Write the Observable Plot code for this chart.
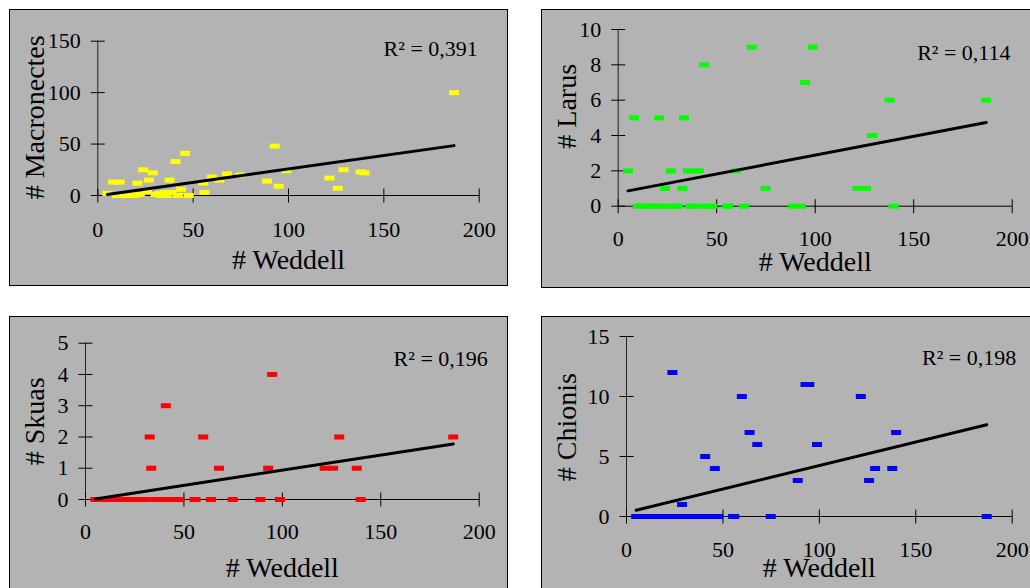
<!DOCTYPE html>
<html>
<head>
<meta charset="utf-8">
<script src="https://cdn.jsdelivr.net/npm/d3@7"></script>
<script src="https://cdn.jsdelivr.net/npm/@observablehq/plot@0.6"></script>
<style>
  html, body { margin: 0; padding: 0; background: #fff; width: 1030px; height: 588px; overflow: hidden; position: relative; }
  .panel { position: absolute; box-sizing: border-box; border: 1px solid #000; background: #b3b3b3; overflow: hidden; }
  .panel svg { display: block; }
</style>
</head>
<body>
<script>
// Number of Weddell seals per site (shared x for all four panels)
const weddell = [5, 8, 10, 11.5, 13, 15, 17, 19, 20.8, 22, 23.8, 25.8, 26.8, 28.8, 30.3,
  32.6, 33.4, 35.4, 36.5, 37.6, 38.6, 40.8, 42, 43.6, 45.8, 47.7, 55.3, 55.9, 59.8, 63.8,
  67.8, 74.8, 88.8, 92.8, 94.8, 98.8, 121.5, 125.8, 128.9, 137.8, 139.8, 186.8];

// Bird counts at the same sites
const macronectes = [2, 13, 0, 13, 1, 0, 1, 0, 12, 1, 25, 4, 15, 22, 1,
  2, 0, 3, 0, 15, 3, 33, 0, 6, 41, 0, 12, 3, 18, 15,
  21, 20, 14, 48, 9, 24, 17, 7, 25, 23, 22, 100];
const larus = [2, 5, 0, 0, 0, 0, 0, 0, 5, 0, 1, 0, 2, 0, 0,
  1, 5, 2, 0, 0, 2, 2, 0, 8, 0, 0, 0, 0, 2, 0,
  9, 1, 0, 0, 7, 9, 1, 1, 4, 6, 0, 6];
const skuas = [0, 0, 0, 0, 0, 0, 0, 0, 0, 0, 0, 0, 0, 0, 0,
  2, 1, 0, 0, 0, 0, 3, 0, 0, 0, 0, 0, 0, 2, 0,
  1, 0, 0, 1, 4, 0, 1, 1, 2, 1, 0, 2];
const chionis = [0, 0, 0, 0, 0, 0, 0, 0, 0, 0, 12, 0, 0, 1, 0,
  0, 0, 0, 0, 0, 0, 5, 0, 0, 4, 0, 0, 0, 10, 7,
  6, 0, 3, 11, 11, 6, 10, 3, 4, 4, 7, 0];

const species = ["Macronectes", "Larus", "Skuas", "Chionis"];
const counts = [macronectes, larus, skuas, chionis];
const colors = ["#ffff00", "#00ff00", "#ff0000", "#0000ff"];
const rSquared = ["0,391", "0,114", "0,196", "0,198"];
const yTickSets = [[0, 50, 100, 150], [0, 2, 4, 6, 8, 10], [0, 1, 2, 3, 4, 5], [0, 5, 10, 15]];
const xTicks = [0, 50, 100, 150, 200];
const xTitle = "# Weddell";

// Box placement and inner margins of each panel
const layouts = [
  {left: 9,   top: 9,   w: 499, h: 277, ml: 87.3, mr: 28.3, mt: 30.7, mb: 90,   xtd: 34,   xtitle: 73.3, ytx: -54,   yty: -1,    rdx: -1.4, rdy: 14.3},
  {left: 541, top: 9,   w: 499, h: 279, ml: 75.7, mr: 27.3, mt: 19,   mb: 81.3, xtd: 33,   xtitle: 65,   ytx: -42.7, yty: -11.5, rdx: -1.7, rdy: 30.3},
  {left: 9,   top: 316, w: 499, h: 277, ml: 75,   mr: 28.3, mt: 25.7, mb: 93,   xtd: 32.5, xtitle: 77.7, ytx: -42,   yty: 0,     rdx: 8.6,  rdy: 22.3},
  {left: 541, top: 316, w: 499, h: 277, ml: 84,   mr: 27.3, mt: 19,   mb: 76,   xtd: 33,   xtitle: 60.7, ytx: -51,   yty: 0.7,   rdx: 4,    rdy: 28}
];

// Marker and tick glyphs
const dash = {draw(ctx) { ctx.rect(-5, -2.5, 10, 5); }};
const vTick = {draw(ctx) { ctx.moveTo(0, -7); ctx.lineTo(0, 7); }};
const hTick = {draw(ctx) { ctx.moveTo(-7, 0); ctx.lineTo(7, 0); }};

const font = "'Liberation Serif', 'Times New Roman', serif";

layouts.forEach((L, i) => {
  const rows = weddell.map((w, j) => ({w, n: counts[i][j]}));
  const yTicks = yTickSets[i];
  const yMax = yTicks[yTicks.length - 1];

  const chart = Plot.plot({
    width: L.w - 2,
    height: L.h - 2,
    marginLeft: L.ml, marginRight: L.mr, marginTop: L.mt, marginBottom: L.mb,
    x: {domain: [0, 200], axis: null},
    y: {domain: [0, yMax], axis: null},
    style: {background: "transparent", fontFamily: font, color: "#000", overflow: "visible"},
    marks: [
      // axes crossing at the origin
      Plot.ruleY([0], {stroke: "#000", strokeWidth: 1}),
      Plot.ruleX([0], {stroke: "#222", strokeWidth: 1}),
      Plot.dot(xTicks, {x: d => d, y: () => 0, symbol: vTick, stroke: "#000", fill: "none", strokeWidth: 1}),
      Plot.dot(yTicks, {x: () => 0, y: d => d, symbol: hTick, stroke: "#000", fill: "none", strokeWidth: 1}),
      Plot.text(xTicks, {x: d => d, y: () => 0, text: d => String(d), dy: L.xtd, fontSize: 22, fill: "#000"}),
      Plot.text(yTicks, {x: () => 0, y: d => d, text: d => String(d), dx: -17, textAnchor: "end", fontSize: 22, fill: "#000"}),
      // observations
      Plot.dot(rows, {x: "w", y: "n", symbol: dash, fill: colors[i], stroke: "none"}),
      // least-squares trend line
      Plot.linearRegressionY(rows, {x: "w", y: "n", ci: 0, stroke: "#000", strokeWidth: 3}),
      // titles
      Plot.text([xTitle], {x: () => 100, y: () => 0, text: d => d, dy: L.xtitle, lineAnchor: "bottom", fontSize: 28, fill: "#000"}),
      Plot.text(["# " + species[i]], {x: () => 0, y: () => yMax / 2, text: d => d, rotate: -90, dx: L.ytx, dy: L.yty, lineAnchor: "bottom", fontSize: 28, fill: "#000"}),
      Plot.text([rSquared[i]], {frameAnchor: "top-right", text: d => "R\u00B2 = " + d, textAnchor: "end", lineAnchor: "bottom", dx: L.rdx, dy: L.rdy, fontSize: 22, fill: "#000"})
    ]
  });

  const box = document.createElement("div");
  box.className = "panel";
  Object.assign(box.style, {left: L.left + "px", top: L.top + "px", width: L.w + "px", height: L.h + "px"});
  box.appendChild(chart);
  document.body.appendChild(box);
});
</script>
</body>
</html>
